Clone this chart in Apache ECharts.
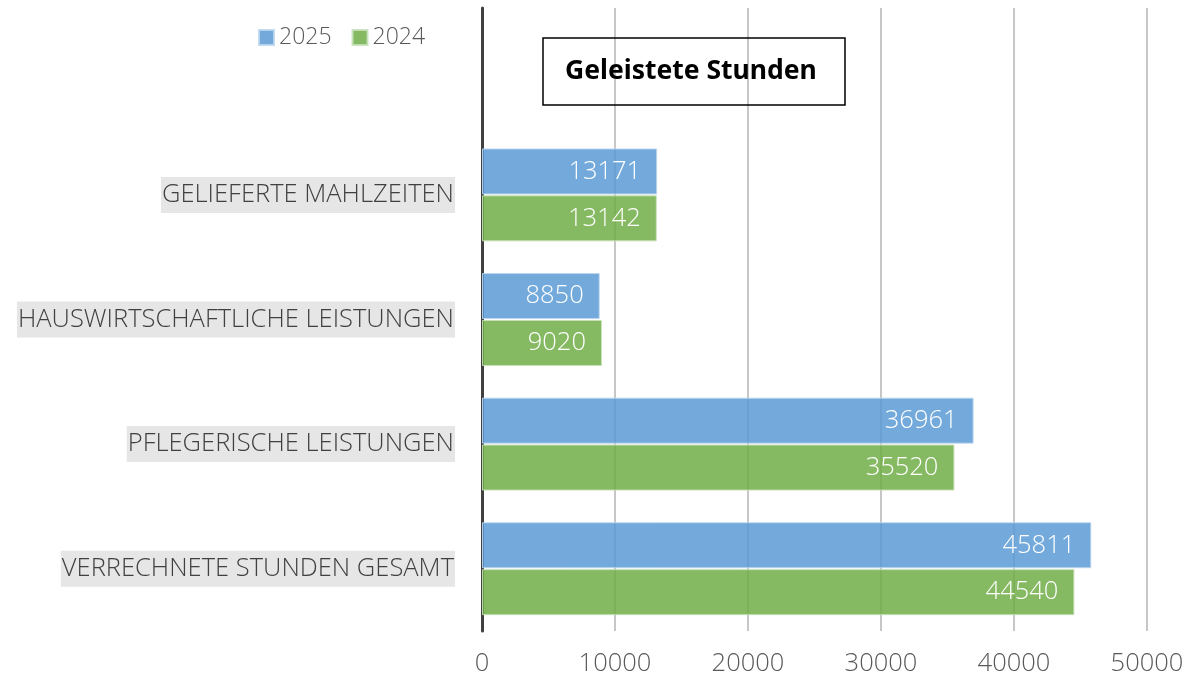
<!DOCTYPE html>
<html>
<head>
<meta charset="utf-8">
<script src="https://cdn.jsdelivr.net/npm/echarts@6/dist/echarts.min.js"></script>
<style>html,body{margin:0;padding:0;background:#fff}#c{width:1189px;height:683px}</style>
</head>
<body>
<div id="c"></div>
<script>
const categories = ['VERRECHNETE STUNDEN GESAMT', 'PFLEGERISCHE LEISTUNGEN', 'HAUSWIRTSCHAFTLICHE LEISTUNGEN', 'GELIEFERTE MAHLZEITEN', ''];
const values2025 = [45811, 36961, 8850, 13171, null];
const values2024 = [44540, 35520, 9020, 13142, null];
const xTicks = [0, 10000, 20000, 30000, 40000, 50000];
const titleText = 'Geleistete Stunden';

const chart = echarts.init(document.getElementById('c'));
const font = '"Open Sans", "Noto Sans", sans-serif';
const labelStyle = {
  show: true, position: 'insideRight', distance: 16, color: '#fff',
  fontSize: 25.5, fontFamily: font, fontWeight: 300
};
chart.setOption({
  animation: false,
  textStyle: { fontFamily: font },
  title: {
    text: titleText, left: 543, top: 38,
    padding: [20, 28, 20, 22],
    borderColor: '#000', borderWidth: 1.5,
    textStyle: { fontSize: 26.5, fontWeight: 'bold', color: '#000', fontFamily: '"Noto Sans", sans-serif' }
  },
  legend: {
    data: ['2025', '2024'], left: 253, top: 21, itemWidth: 15, itemHeight: 15, itemGap: 20,
    icon: 'rect',
    textStyle: { fontSize: 23, color: '#595959', fontFamily: font, fontWeight: 300 }
  },
  grid: { left: 482, right: 42, top: 8, bottom: 52, containLabel: false },
  xAxis: {
    type: 'value', min: xTicks[0], max: xTicks[xTicks.length - 1], interval: 10000,
    axisLine: { show: false }, axisTick: { show: false },
    axisLabel: { fontSize: 25.5, color: '#595959', margin: 20, fontWeight: 300, fontFamily: font,
      formatter: v => String(v) },
    splitLine: { show: true, lineStyle: { color: '#b4b4b4', width: 1.5 } }
  },
  yAxis: {
    type: 'category', data: categories,
    axisLine: { show: true, onZero: false, lineStyle: { color: '#404040', width: 3 } },
    axisTick: { show: false },
    axisLabel: {
      margin: 27,
      formatter: v => v ? '{b|' + v + '}' : '',
      rich: {
        b: { fontSize: 25.5, color: '#404040', fontWeight: 300, fontFamily: font,
          backgroundColor: '#e6e6e6', padding: [5, 1, 5, 1] }
      }
    }
  },
  series: [
    {
      name: '2025', type: 'bar', data: values2025, barWidth: 46, barGap: '2%',
      itemStyle: { color: 'rgba(91,155,213,0.85)', borderColor: 'rgba(190,215,238,0.9)', borderWidth: 1 },
      label: labelStyle
    },
    {
      name: '2024', type: 'bar', data: values2024, barWidth: 46, barGap: '2%',
      itemStyle: { color: 'rgba(112,173,71,0.85)', borderColor: 'rgba(200,225,185,0.9)', borderWidth: 1 },
      label: labelStyle
    }
  ]
});
</script>
</body>
</html>
